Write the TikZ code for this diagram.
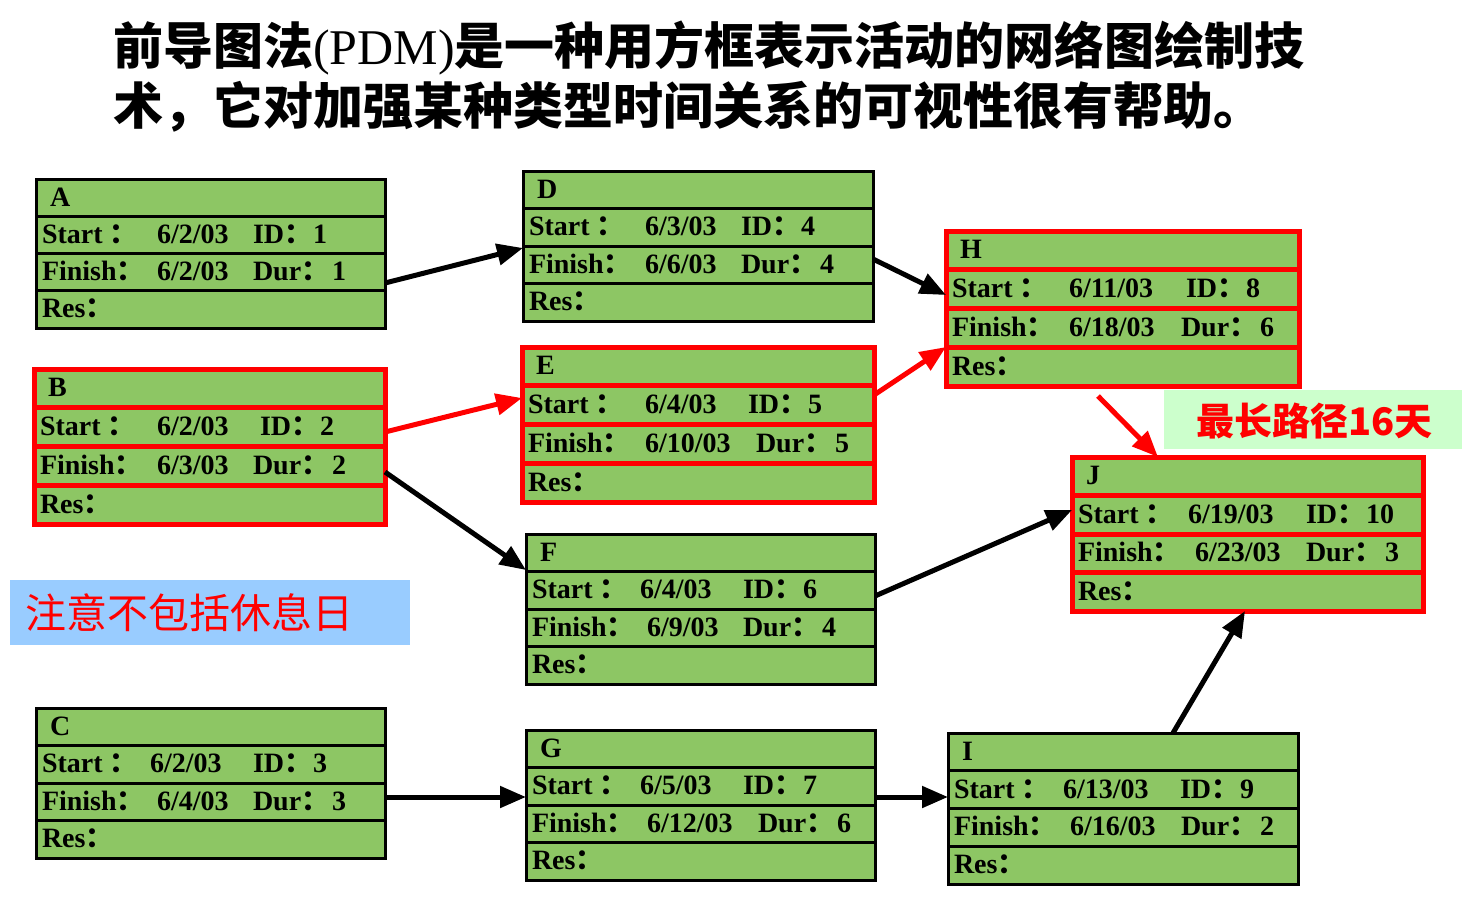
\documentclass[tikz,border=0pt]{standalone}
\usepackage{fontspec}
\setmainfont{Liberation Serif}
\newfontfamily\cjk{Noto Sans CJK SC}
\newfontfamily\cjkheavy{Noto Sans CJK SC Black}
\usetikzlibrary{arrows.meta}
\definecolor{boxgreen}{RGB}{141,198,100}
\definecolor{legendgreen}{RGB}{204,255,204}
\definecolor{noteblue}{RGB}{153,204,255}
\newcommand\cc{{\cjk ：}}
\tikzset{
  pdmblack/.style={draw=black, line width=3pt},
  pdmred/.style={draw=red, line width=5pt},
  boxtxt/.style={font=\fontsize{28}{30}\selectfont\bfseries, anchor=base west, inner sep=0pt, outer sep=0pt},
  conn/.style={line width=5pt, -{Triangle[length=26pt,width=21pt]}},
  redconn/.style={conn, draw=red, fill=red},
}
% name, x1, y1, x2, y2, style, title
\newcommand\pdmbox[7]{%
  \node[#6, fill=boxgreen, minimum width={(#4-#2)*1pt}, minimum height={(#5-#3)*1pt}, inner sep=0pt, outer sep=0pt] (#1) at ({(#2+#4)/2},{(#3+#5)/2}) {};
  \foreach \k in {1,2,3} {\draw[#6] (#2,{#3+\k*(#5-#3)/4}) -- (#4,{#3+\k*(#5-#3)/4});}
  \node[boxtxt] (#1-t) at ({#2+14},{#3+(#5-#3)/8+8.5}) {#7};
  \node[boxtxt] (#1-s) at ({#2+6},{#3+3*(#5-#3)/8+8.5}) {Start \cc};
  \node[boxtxt] (#1-f) at ({#2+6},{#3+5*(#5-#3)/8+8.5}) {Finish\cc};
  \node[boxtxt] (#1-r) at ({#2+6},{#3+7*(#5-#3)/8+8.5}) {Res\cc};
}
% name, y1, y2, row, x, text
\newcommand\pv[6]{%
  \node[boxtxt] (#1) at (#5,{#2+(2*#4-1)*(#3-#2)/8+8.5}) {#6};
}
\newcommand\idv[1]{ID\cc\kern1pt #1}
\newcommand\duv[1]{Dur\cc\kern3pt #1}
\begin{document}
\begin{tikzpicture}[x=1pt,y=-1pt]
\fill[white] (0,0) rectangle (1462,898);
\useasboundingbox (0,0) rectangle (1462,898);

% title
\node[anchor=base west, inner sep=0pt] (t1) at (113,64)
  {\fontsize{50}{54}\selectfont\cjkheavy 前导图法{\rmfamily\mdseries(PDM)}是一种用方框表示活动的网络图绘制技};
\node[anchor=base west, inner sep=0pt] (t2) at (113,124)
  {\fontsize{50}{54}\selectfont\cjkheavy 术，它对加强某种类型时间关系的可视性很有帮助。};

% boxes
\pdmbox{A}{36}{179}{385}{328}{pdmblack}{A}
\pv{A-sd}{179}{328}{2}{157}{6/2/03}
\pv{A-id}{179}{328}{2}{253}{\idv{1}}
\pv{A-fd}{179}{328}{3}{157}{6/2/03}
\pv{A-du}{179}{328}{3}{253}{\duv{1}}

\pdmbox{B}{34}{369}{385}{524}{pdmred}{B}
\pv{B-sd}{369}{524}{2}{157}{6/2/03}
\pv{B-id}{369}{524}{2}{260}{\idv{2}}
\pv{B-fd}{369}{524}{3}{157}{6/3/03}
\pv{B-du}{369}{524}{3}{253}{\duv{2}}

\pdmbox{C}{36}{708}{385}{858}{pdmblack}{C}
\pv{C-sd}{708}{858}{2}{150}{6/2/03}
\pv{C-id}{708}{858}{2}{253}{\idv{3}}
\pv{C-fd}{708}{858}{3}{157}{6/4/03}
\pv{C-du}{708}{858}{3}{253}{\duv{3}}

\pdmbox{D}{523}{171}{873}{321}{pdmblack}{D}
\pv{D-sd}{171}{321}{2}{645}{6/3/03}
\pv{D-id}{171}{321}{2}{741}{\idv{4}}
\pv{D-fd}{171}{321}{3}{645}{6/6/03}
\pv{D-du}{171}{321}{3}{741}{\duv{4}}

\pdmbox{E}{522}{347}{874}{502}{pdmred}{E}
\pv{E-sd}{347}{502}{2}{645}{6/4/03}
\pv{E-id}{347}{502}{2}{748}{\idv{5}}
\pv{E-fd}{347}{502}{3}{645}{6/10/03}
\pv{E-du}{347}{502}{3}{756}{\duv{5}}

\pdmbox{F}{526}{534}{875}{684}{pdmblack}{F}
\pv{F-sd}{534}{684}{2}{640}{6/4/03}
\pv{F-id}{534}{684}{2}{743}{\idv{6}}
\pv{F-fd}{534}{684}{3}{647}{6/9/03}
\pv{F-du}{534}{684}{3}{743}{\duv{4}}

\pdmbox{G}{526}{730}{875}{880}{pdmblack}{G}
\pv{G-sd}{730}{880}{2}{640}{6/5/03}
\pv{G-id}{730}{880}{2}{743}{\idv{7}}
\pv{G-fd}{730}{880}{3}{647}{6/12/03}
\pv{G-du}{730}{880}{3}{758}{\duv{6}}

\pdmbox{H}{946}{231}{1299}{386}{pdmred}{H}
\pv{H-sd}{231}{386}{2}{1069}{6/11/03}
\pv{H-id}{231}{386}{2}{1186}{\idv{8}}
\pv{H-fd}{231}{386}{3}{1069}{6/18/03}
\pv{H-du}{231}{386}{3}{1181}{\duv{6}}

\pdmbox{I}{948}{733}{1298}{884}{pdmblack}{I}
\pv{I-sd}{733}{884}{2}{1063}{6/13/03}
\pv{I-id}{733}{884}{2}{1180}{\idv{9}}
\pv{I-fd}{733}{884}{3}{1070}{6/16/03}
\pv{I-du}{733}{884}{3}{1181}{\duv{2}}

\pdmbox{J}{1072}{457}{1423}{611}{pdmred}{J}
\pv{J-sd}{457}{611}{2}{1188}{6/19/03}
\pv{J-id}{457}{611}{2}{1306}{\idv{10}}
\pv{J-fd}{457}{611}{3}{1195}{6/23/03}
\pv{J-du}{457}{611}{3}{1306}{\duv{3}}

% connectors
\draw[conn] ([yshift=-29.5pt]A.east) -- ([yshift=-2pt]D.west);
\draw[conn] ([yshift=-13pt]D.east) -- ([yshift=13.5pt]H.west);
\draw[redconn] ([yshift=14.5pt]B.east) -- ([yshift=26.5pt]E.west);
\draw[conn] ([yshift=-25.5pt]B.east) -- ([yshift=39pt]F.west);
\draw[redconn] ([yshift=29.5pt]E.east) -- ([yshift=-38.5pt]H.west);
\draw[conn] ([yshift=13pt]F.east) -- ([yshift=24pt]J.west);
\draw[conn] ([yshift=-14pt]C.east) -- ([yshift=8pt]G.west);
\draw[conn] ([yshift=8pt]G.east) -- ([yshift=11.5pt]I.west);
\draw[conn] ([xshift=50pt]I.north) -- ([xshift=-2.5pt]J.south);
\draw[redconn] ([xshift=-24.5pt,yshift=-10pt]H.south) -- ([xshift=-89.5pt]J.north);

% legend boxes
\node[fill=legendgreen, minimum width=298pt, minimum height=59pt, inner sep=0pt] (lg) at (1313,419.5) {};
\node[anchor=base west, inner sep=0pt, text=red] (lgt) at (1196,435)
  {\fontsize{38}{40}\selectfont\cjk\bfseries 最长路径16天};
\node[fill=noteblue, minimum width=400pt, minimum height=65pt, inner sep=0pt] (nb) at (210,612.5) {};
\node[anchor=base west, inner sep=0pt, text=red] (nbt) at (25,628)
  {\fontsize{41}{44}\selectfont\cjk 注意不包括休息日};
\end{tikzpicture}
\end{document}
